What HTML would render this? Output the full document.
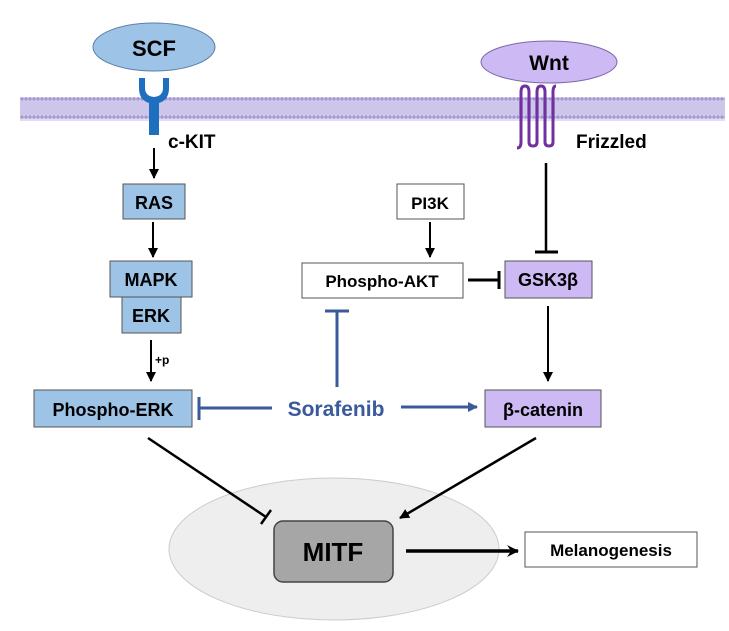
<!DOCTYPE html>
<html><head><style>body{margin:0;background:#fff}svg{display:block}text{font-family:"Liberation Sans",sans-serif;font-weight:bold}</style></head><body>
<svg width="729" height="631" viewBox="0 0 729 631" xmlns="http://www.w3.org/2000/svg">
<defs>
<pattern id="mem" width="4" height="24" patternUnits="userSpaceOnUse"><rect width="4" height="24" fill="#e2dcf3"/><circle cx="2" cy="3" r="1.8" fill="#a597d2"/><circle cx="2" cy="21" r="1.8" fill="#a597d2"/><line x1="1" y1="5" x2="1" y2="19" stroke="#b9aee0" stroke-width="1"/><line x1="3" y1="5" x2="3" y2="19" stroke="#b9aee0" stroke-width="1"/></pattern>
<marker id="ah" markerWidth="10" markerHeight="10" refX="9" refY="5" orient="auto" markerUnits="userSpaceOnUse"><path d="M0,0 L10,5 L0,10 z" fill="#000"/></marker>
<marker id="ahb" markerWidth="10" markerHeight="10" refX="9" refY="5" orient="auto" markerUnits="userSpaceOnUse"><path d="M0,0 L10,5 L0,10 z" fill="#3b5a9a"/></marker>
<marker id="ahk" markerWidth="12" markerHeight="12" refX="11" refY="6" orient="auto" markerUnits="userSpaceOnUse"><path d="M0,0 L12,6 L0,12 L4,6 z" fill="#000"/></marker>
</defs>
<rect x="20" y="97" width="705" height="24" fill="url(#mem)"/>
<ellipse cx="154" cy="47" rx="61" ry="24" fill="#9dc3e6" stroke="#5b7fa8" stroke-width="1"/>
<text x="154" y="56" font-size="22" text-anchor="middle">SCF</text>
<ellipse cx="549" cy="62" rx="68" ry="21" fill="#cdb9f3" stroke="#7a68a8" stroke-width="1"/>
<text x="549" y="70" font-size="21" text-anchor="middle">Wnt</text>
<path d="M139,78 L139,88 Q139,100 149,103 L149,135 L159,135 L159,103 Q169,100 169,88 L169,78 L163,78 L163,88 Q163,96 154,97 Q145,96 145,88 L145,78 Z" fill="#1f6fbf"/>
<text x="168" y="148" font-size="19">c-KIT</text>
<path d="M517,148 Q521,148 521,142 L521,92 Q521,86 525,86 Q529,86 529,92 L529,142 Q529,146 533,146 Q537,146 537,142 L537,92 Q537,86 541,86 Q545,86 545,92 L545,142 Q545,146 549,146 Q553,146 553,142 L553,92 Q553,86 556,86" fill="none" stroke="#7030a0" stroke-width="3"/>
<text x="576" y="148" font-size="19">Frizzled</text>
<line x1="154" y1="148" x2="154" y2="178" stroke="#000" stroke-width="2" marker-end="url(#ah)"/>
<rect x="123" y="184" width="62" height="35" fill="#9dc3e6" stroke="#555"/>
<text x="154" y="209" font-size="18" text-anchor="middle">RAS</text>
<line x1="153" y1="222" x2="153" y2="257" stroke="#000" stroke-width="2" marker-end="url(#ah)"/>
<rect x="110" y="261" width="82" height="36" fill="#9dc3e6" stroke="#555"/>
<text x="151" y="286" font-size="18" text-anchor="middle">MAPK</text>
<rect x="122" y="297" width="59" height="36" fill="#9dc3e6" stroke="#555"/>
<text x="151" y="322" font-size="18" text-anchor="middle">ERK</text>
<line x1="151" y1="340" x2="151" y2="381" stroke="#000" stroke-width="2" marker-end="url(#ah)"/>
<text x="155" y="364" font-size="12">+p</text>
<rect x="34" y="390" width="158" height="37" fill="#9dc3e6" stroke="#555"/>
<text x="113" y="416" font-size="18" text-anchor="middle">Phospho-ERK</text>
<rect x="397" y="184" width="67" height="35" fill="#fff" stroke="#555"/>
<text x="430" y="209" font-size="17" text-anchor="middle">PI3K</text>
<line x1="430" y1="222" x2="430" y2="257" stroke="#000" stroke-width="2" marker-end="url(#ah)"/>
<rect x="302" y="263" width="161" height="35" fill="#fff" stroke="#555"/>
<text x="382" y="287" font-size="17" text-anchor="middle">Phospho-AKT</text>
<line x1="468" y1="280" x2="499" y2="280" stroke="#000" stroke-width="3"/>
<line x1="499" y1="271" x2="499" y2="289" stroke="#000" stroke-width="3"/>
<line x1="546" y1="163" x2="546" y2="252" stroke="#000" stroke-width="2.5"/>
<line x1="535" y1="252" x2="558" y2="252" stroke="#000" stroke-width="3"/>
<rect x="505" y="261" width="87" height="37" fill="#cdb9f3" stroke="#555"/>
<text x="548" y="286" font-size="18" text-anchor="middle">GSK3β</text>
<line x1="548" y1="306" x2="548" y2="381" stroke="#000" stroke-width="2" marker-end="url(#ah)"/>
<rect x="485" y="390" width="116" height="37" fill="#cdb9f3" stroke="#555"/>
<text x="543" y="416" font-size="18" text-anchor="middle">β-catenin</text>
<text x="336" y="416" font-size="21" fill="#3b5a9a" text-anchor="middle">Sorafenib</text>
<line x1="272" y1="408" x2="200" y2="408" stroke="#3b5a9a" stroke-width="3"/>
<line x1="199" y1="397" x2="199" y2="420" stroke="#3b5a9a" stroke-width="3"/>
<line x1="401" y1="407" x2="477" y2="407" stroke="#3b5a9a" stroke-width="3" marker-end="url(#ahb)"/>
<line x1="337" y1="387" x2="337" y2="311" stroke="#3b5a9a" stroke-width="3"/>
<line x1="325" y1="311" x2="349" y2="311" stroke="#3b5a9a" stroke-width="3"/>
<ellipse cx="334" cy="549" rx="165" ry="71" fill="#eeeeee" stroke="#ccc"/>
<line x1="148" y1="438" x2="266" y2="517" stroke="#000" stroke-width="2.5"/>
<line x1="261" y1="524" x2="271" y2="510" stroke="#000" stroke-width="2.5"/>
<line x1="536" y1="438" x2="400" y2="518" stroke="#000" stroke-width="2.5" marker-end="url(#ah)"/>
<rect x="274" y="521" width="119" height="61" rx="9" fill="#a6a6a6" stroke="#444" stroke-width="1.5"/>
<text x="333" y="561" font-size="26" text-anchor="middle">MITF</text>
<line x1="406" y1="551" x2="518" y2="551" stroke="#000" stroke-width="3.5" marker-end="url(#ahk)"/>
<rect x="525" y="532" width="172" height="35" fill="#fff" stroke="#555"/>
<text x="611" y="556" font-size="17" text-anchor="middle">Melanogenesis</text>
</svg>
</body></html>
